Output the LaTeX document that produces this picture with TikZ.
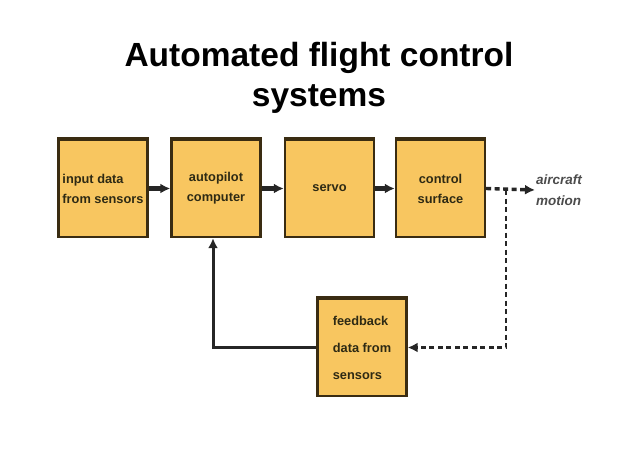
\documentclass[tikz,border=0pt]{standalone}
\usepackage{fontspec}
\setmainfont{Liberation Sans}
\usetikzlibrary{arrows.meta}
\definecolor{boxfill}{HTML}{F8C660}
\definecolor{boxline}{HTML}{3A2C12}
\definecolor{txt}{HTML}{2E2A14}
\begin{document}
\begin{tikzpicture}[x=1pt,y=-1pt,
  blk/.style={draw=boxline, fill=boxfill, line width=2.4pt, minimum width=89pt, minimum height=97pt,
    inner sep=2pt, font=\fontsize{12.8}{20}\selectfont\bfseries, text=txt},
  tip/.style={-{Latex[length=10pt,width=10pt]}},
  conn/.style={draw=black!85, line width=4.2pt, tip},
  dsh/.style={draw=black!85, line width=3.4pt, dash pattern=on 5pt off 3.5pt},
  fbl/.style={draw=black!85, line width=3pt, tip}]
\useasboundingbox (0,0) rectangle (638,451);
\node[font=\fontsize{33.5}{40}\selectfont\bfseries, align=center] (title) at (319,78) {Automated flight control\\systems};
\node[blk, align=left] (in) at (103,188.5) {input data\\from sensors};
\node[blk, align=center] (ap) at (216,188.5) {autopilot\\computer};
\node[blk, align=center] (sv) at (329.5,188.5) {servo};
\node[blk, align=center] (cs) at (440.5,188.5) {control\\surface};
\node[blk, align=left, font=\fontsize{12.8}{27}\selectfont\bfseries] (fb) at (362,347.5) {feedback\\data from\\sensors};
\node[font=\fontsize{13.5}{21}\selectfont\bfseries\itshape, text=black!70, align=left, anchor=west, inner sep=1pt] (am) at (535,190) {aircraft\\motion};
\foreach \n in {in,ap,sv,cs,fb}
  \draw[boxline, line width=4.5pt] (\n.north west) -- (\n.north east);
\draw[conn] (in) -- (ap);
\draw[conn] (ap) -- (sv);
\draw[conn] (sv) -- (cs);
\draw[dsh, tip] (cs.east) -- (am.west);
\coordinate (j) at (506,190);
\draw[dsh, line width=2.6pt, tip] (j) |- (fb.east);
\draw[fbl] (fb.west) -| ([xshift=-3pt]ap.south);
\end{tikzpicture}
\end{document}
